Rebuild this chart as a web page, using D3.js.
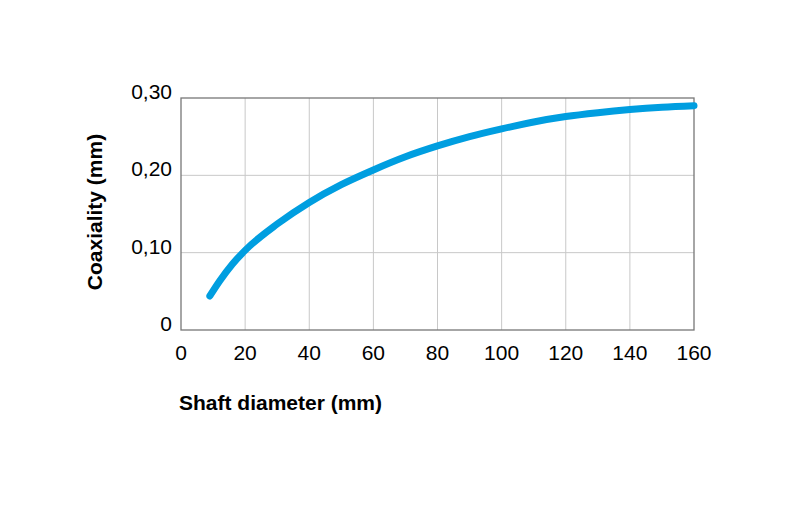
<!DOCTYPE html>
<html>
<head>
<meta charset="utf-8">
<script src="https://cdn.jsdelivr.net/npm/d3@7"></script>
<style>
  body { margin: 0; background: #fff; }
  text { font-family: "Liberation Sans", Arial, sans-serif; }
</style>
</head>
<body>
<svg id="chart" width="800" height="505"></svg>
<script>
const diameters = [9, 12, 16, 20, 30, 40, 50, 60, 70, 80, 90, 100, 110, 120, 130, 140, 150, 160];
const coaxiality = [0.044, 0.063, 0.085, 0.103, 0.137, 0.165, 0.188, 0.207, 0.224, 0.238, 0.250, 0.260, 0.269, 0.276, 0.281, 0.285, 0.288, 0.290];
const xTicks = [0, 20, 40, 60, 80, 100, 120, 140, 160];
const yTicks = [0, 0.1, 0.2, 0.3];
const yTickLabels = ["0", "0,10", "0,20", "0,30"];

const margin = { top: 98, left: 181 };
const width = 513, height = 232;

const svg = d3.select("#chart").append("g")
    .attr("transform", `translate(${margin.left},${margin.top})`);

const x = d3.scaleLinear().domain([0, 160]).range([0, width]);
const y = d3.scaleLinear().domain([0, 0.3]).range([height, 0]);

// grid
svg.selectAll(".vgrid")
    .data(xTicks.slice(1, -1))
    .enter().append("line")
    .attr("x1", d => x(d)).attr("x2", d => x(d))
    .attr("y1", 0).attr("y2", height)
    .attr("stroke", "#c8c8c8");

svg.selectAll(".hgrid")
    .data(yTicks.slice(1, -1))
    .enter().append("line")
    .attr("x1", 0).attr("x2", width)
    .attr("y1", d => y(d)).attr("y2", d => y(d))
    .attr("stroke", "#c8c8c8");

// frame
svg.append("rect")
    .attr("width", width).attr("height", height)
    .attr("fill", "none").attr("stroke", "#777").attr("stroke-width", 1.3);

// tick labels
svg.selectAll(".xlab")
    .data(xTicks)
    .enter().append("text")
    .attr("x", d => x(d)).attr("y", height + 30)
    .attr("text-anchor", "middle")
    .style("font-size", "21px")
    .text(d => d);

svg.selectAll(".ylab")
    .data(yTicks)
    .enter().append("text")
    .attr("x", -9).attr("y", d => y(d) + 1)
    .attr("text-anchor", "end")
    .style("font-size", "21px")
    .text((d, i) => yTickLabels[i]);

// axis titles
svg.append("text")
    .attr("x", -2).attr("y", height + 80)
    .style("font-size", "21px").style("font-weight", "bold")
    .text("Shaft diameter (mm)");

svg.append("text")
    .attr("transform", `translate(-79,${height / 2 - 2}) rotate(-90)`)
    .attr("text-anchor", "middle")
    .style("font-size", "21px").style("font-weight", "bold")
    .text("Coaxiality (mm)");

// curve
const line = d3.line()
    .x((d, i) => x(diameters[i]))
    .y(d => y(d))
    .curve(d3.curveMonotoneX);

svg.append("path")
    .datum(coaxiality)
    .attr("d", line)
    .attr("fill", "none")
    .attr("stroke", "#009ee0")
    .attr("stroke-width", 7)
    .attr("stroke-linecap", "round");
</script>
</body>
</html>
